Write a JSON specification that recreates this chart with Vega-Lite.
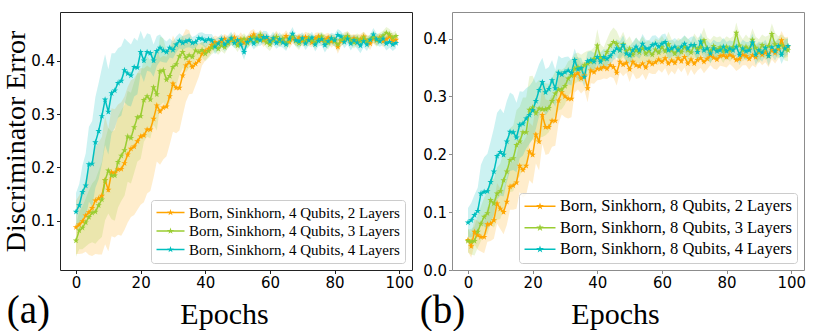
{
"$schema": "https://vega.github.io/schema/vega-lite/v6.json",
"padding": {"left": 2, "top": 11, "right": 5, "bottom": 0},
"config": {
 "view": {"strokeWidth": 1},
 "axis": {"labelFont": "DejaVu Sans", "labelFontSize": 15, "labelColor": "black", "titleFont": "Liberation Serif", "titleFontWeight": "normal", "titleColor": "black", "grid": false, "domain": false, "tickSize": 3.5},
 "legend": {"labelFont": "Liberation Serif", "labelLimit": 0}
},
"spacing": 40,
"bounds": "flush",
"resolve": {"scale": {"color": "independent"}},
"datasets": {
"a": [
{"L":2,"e":0,"y":0.088,"d":0.05},{"L":2,"e":1,"y":0.093,"d":0.055},{"L":2,"e":2,"y":0.099,"d":0.06},{"L":2,"e":3,"y":0.11,"d":0.068},{"L":2,"e":4,"y":0.116,"d":0.08},{"L":2,"e":5,"y":0.124,"d":0.09},{"L":2,"e":6,"y":0.138,"d":0.1},{"L":2,"e":7,"y":0.142,"d":0.105},{"L":2,"e":8,"y":0.147,"d":0.11},{"L":2,"e":9,"y":0.176,"d":0.12},
{"L":2,"e":10,"y":0.158,"d":0.115},{"L":2,"e":11,"y":0.191,"d":0.12},{"L":2,"e":12,"y":0.189,"d":0.12},{"L":2,"e":13,"y":0.196,"d":0.122},{"L":2,"e":14,"y":0.197,"d":0.125},{"L":2,"e":15,"y":0.208,"d":0.125},{"L":2,"e":16,"y":0.224,"d":0.127},{"L":2,"e":17,"y":0.235,"d":0.128},{"L":2,"e":18,"y":0.239,"d":0.128},{"L":2,"e":19,"y":0.249,"d":0.128},
{"L":2,"e":20,"y":0.258,"d":0.128},{"L":2,"e":21,"y":0.26,"d":0.125},{"L":2,"e":22,"y":0.271,"d":0.12},{"L":2,"e":23,"y":0.271,"d":0.115},{"L":2,"e":24,"y":0.291,"d":0.11},{"L":2,"e":25,"y":0.316,"d":0.105},{"L":2,"e":26,"y":0.305,"d":0.1},{"L":2,"e":27,"y":0.312,"d":0.097},{"L":2,"e":28,"y":0.314,"d":0.093},{"L":2,"e":29,"y":0.333,"d":0.09},
{"L":2,"e":30,"y":0.357,"d":0.09},{"L":2,"e":31,"y":0.349,"d":0.085},{"L":2,"e":32,"y":0.349,"d":0.08},{"L":2,"e":33,"y":0.372,"d":0.075},{"L":2,"e":34,"y":0.391,"d":0.068},{"L":2,"e":35,"y":0.397,"d":0.06},{"L":2,"e":36,"y":0.388,"d":0.05},{"L":2,"e":37,"y":0.394,"d":0.04},{"L":2,"e":38,"y":0.4,"d":0.03},{"L":2,"e":39,"y":0.413,"d":0.022},
{"L":2,"e":40,"y":0.418,"d":0.018},{"L":2,"e":41,"y":0.422,"d":0.015},{"L":2,"e":42,"y":0.429,"d":0.013},{"L":2,"e":43,"y":0.435,"d":0.012},{"L":2,"e":44,"y":0.432,"d":0.012},{"L":2,"e":45,"y":0.436,"d":0.01},{"L":2,"e":46,"y":0.441,"d":0.009},{"L":2,"e":47,"y":0.434,"d":0.012},{"L":2,"e":48,"y":0.438,"d":0.008},{"L":2,"e":49,"y":0.443,"d":0.011},
{"L":2,"e":50,"y":0.436,"d":0.009},{"L":2,"e":51,"y":0.44,"d":0.013},{"L":2,"e":52,"y":0.433,"d":0.01},{"L":2,"e":53,"y":0.439,"d":0.008},{"L":2,"e":54,"y":0.444,"d":0.012},{"L":2,"e":55,"y":0.449,"d":0.01},{"L":2,"e":56,"y":0.441,"d":0.009},{"L":2,"e":57,"y":0.446,"d":0.011},{"L":2,"e":58,"y":0.438,"d":0.013},{"L":2,"e":59,"y":0.442,"d":0.009},
{"L":2,"e":60,"y":0.436,"d":0.01},{"L":2,"e":61,"y":0.441,"d":0.008},{"L":2,"e":62,"y":0.444,"d":0.012},{"L":2,"e":63,"y":0.437,"d":0.01},{"L":2,"e":64,"y":0.44,"d":0.009},{"L":2,"e":65,"y":0.446,"d":0.011},{"L":2,"e":66,"y":0.435,"d":0.013},{"L":2,"e":67,"y":0.441,"d":0.009},{"L":2,"e":68,"y":0.438,"d":0.01},{"L":2,"e":69,"y":0.443,"d":0.008},
{"L":2,"e":70,"y":0.437,"d":0.011},{"L":2,"e":71,"y":0.444,"d":0.01},{"L":2,"e":72,"y":0.439,"d":0.012},{"L":2,"e":73,"y":0.434,"d":0.009},{"L":2,"e":74,"y":0.442,"d":0.01},{"L":2,"e":75,"y":0.445,"d":0.008},{"L":2,"e":76,"y":0.438,"d":0.011},{"L":2,"e":77,"y":0.44,"d":0.01},{"L":2,"e":78,"y":0.443,"d":0.009},{"L":2,"e":79,"y":0.436,"d":0.012},
{"L":2,"e":80,"y":0.439,"d":0.01},{"L":2,"e":81,"y":0.426,"d":0.013},{"L":2,"e":82,"y":0.437,"d":0.01},{"L":2,"e":83,"y":0.441,"d":0.009},{"L":2,"e":84,"y":0.444,"d":0.011},{"L":2,"e":85,"y":0.438,"d":0.01},{"L":2,"e":86,"y":0.442,"d":0.008},{"L":2,"e":87,"y":0.436,"d":0.012},{"L":2,"e":88,"y":0.44,"d":0.01},{"L":2,"e":89,"y":0.445,"d":0.009},
{"L":2,"e":90,"y":0.437,"d":0.011},{"L":2,"e":91,"y":0.432,"d":0.012},{"L":2,"e":92,"y":0.441,"d":0.009},{"L":2,"e":93,"y":0.438,"d":0.01},{"L":2,"e":94,"y":0.443,"d":0.008},{"L":2,"e":95,"y":0.436,"d":0.011},{"L":2,"e":96,"y":0.44,"d":0.01},{"L":2,"e":97,"y":0.445,"d":0.009},{"L":2,"e":98,"y":0.437,"d":0.012},{"L":2,"e":99,"y":0.439,"d":0.01},
{"L":3,"e":0,"y":0.063,"d":0.03},{"L":3,"e":1,"y":0.082,"d":0.035},{"L":3,"e":2,"y":0.087,"d":0.04},{"L":3,"e":3,"y":0.097,"d":0.045},{"L":3,"e":4,"y":0.107,"d":0.05},{"L":3,"e":5,"y":0.115,"d":0.055},{"L":3,"e":6,"y":0.117,"d":0.06},{"L":3,"e":7,"y":0.129,"d":0.065},{"L":3,"e":8,"y":0.14,"d":0.07},{"L":3,"e":9,"y":0.176,"d":0.075},
{"L":3,"e":10,"y":0.194,"d":0.08},{"L":3,"e":11,"y":0.185,"d":0.082},{"L":3,"e":12,"y":0.185,"d":0.085},{"L":3,"e":13,"y":0.21,"d":0.085},{"L":3,"e":14,"y":0.222,"d":0.085},{"L":3,"e":15,"y":0.232,"d":0.085},{"L":3,"e":16,"y":0.258,"d":0.085},{"L":3,"e":17,"y":0.255,"d":0.085},{"L":3,"e":18,"y":0.275,"d":0.085},{"L":3,"e":19,"y":0.294,"d":0.083},
{"L":3,"e":20,"y":0.296,"d":0.08},{"L":3,"e":21,"y":0.326,"d":0.078},{"L":3,"e":22,"y":0.333,"d":0.075},{"L":3,"e":23,"y":0.327,"d":0.073},{"L":3,"e":24,"y":0.35,"d":0.07},{"L":3,"e":25,"y":0.337,"d":0.068},{"L":3,"e":26,"y":0.38,"d":0.065},{"L":3,"e":27,"y":0.382,"d":0.06},{"L":3,"e":28,"y":0.364,"d":0.055},{"L":3,"e":29,"y":0.371,"d":0.05},
{"L":3,"e":30,"y":0.388,"d":0.045},{"L":3,"e":31,"y":0.393,"d":0.04},{"L":3,"e":32,"y":0.408,"d":0.035},{"L":3,"e":33,"y":0.416,"d":0.03},{"L":3,"e":34,"y":0.405,"d":0.027},{"L":3,"e":35,"y":0.41,"d":0.024},{"L":3,"e":36,"y":0.407,"d":0.021},{"L":3,"e":37,"y":0.419,"d":0.018},{"L":3,"e":38,"y":0.416,"d":0.016},{"L":3,"e":39,"y":0.42,"d":0.015},
{"L":3,"e":40,"y":0.413,"d":0.014},{"L":3,"e":41,"y":0.418,"d":0.013},{"L":3,"e":42,"y":0.424,"d":0.012},{"L":3,"e":43,"y":0.428,"d":0.012},{"L":3,"e":44,"y":0.422,"d":0.011},{"L":3,"e":45,"y":0.428,"d":0.01},{"L":3,"e":46,"y":0.425,"d":0.012},{"L":3,"e":47,"y":0.432,"d":0.009},{"L":3,"e":48,"y":0.44,"d":0.011},{"L":3,"e":49,"y":0.435,"d":0.01},
{"L":3,"e":50,"y":0.428,"d":0.012},{"L":3,"e":51,"y":0.437,"d":0.009},{"L":3,"e":52,"y":0.441,"d":0.01},{"L":3,"e":53,"y":0.433,"d":0.011},{"L":3,"e":54,"y":0.438,"d":0.009},{"L":3,"e":55,"y":0.443,"d":0.01},{"L":3,"e":56,"y":0.436,"d":0.012},{"L":3,"e":57,"y":0.448,"d":0.01},{"L":3,"e":58,"y":0.44,"d":0.009},{"L":3,"e":59,"y":0.434,"d":0.011},
{"L":3,"e":60,"y":0.43,"d":0.012},{"L":3,"e":61,"y":0.438,"d":0.01},{"L":3,"e":62,"y":0.444,"d":0.009},{"L":3,"e":63,"y":0.436,"d":0.011},{"L":3,"e":64,"y":0.441,"d":0.01},{"L":3,"e":65,"y":0.433,"d":0.012},{"L":3,"e":66,"y":0.439,"d":0.009},{"L":3,"e":67,"y":0.445,"d":0.01},{"L":3,"e":68,"y":0.437,"d":0.011},{"L":3,"e":69,"y":0.432,"d":0.012},
{"L":3,"e":70,"y":0.44,"d":0.009},{"L":3,"e":71,"y":0.436,"d":0.01},{"L":3,"e":72,"y":0.442,"d":0.011},{"L":3,"e":73,"y":0.438,"d":0.009},{"L":3,"e":74,"y":0.434,"d":0.012},{"L":3,"e":75,"y":0.441,"d":0.01},{"L":3,"e":76,"y":0.445,"d":0.009},{"L":3,"e":77,"y":0.437,"d":0.011},{"L":3,"e":78,"y":0.433,"d":0.012},{"L":3,"e":79,"y":0.44,"d":0.01},
{"L":3,"e":80,"y":0.436,"d":0.009},{"L":3,"e":81,"y":0.43,"d":0.012},{"L":3,"e":82,"y":0.438,"d":0.01},{"L":3,"e":83,"y":0.442,"d":0.011},{"L":3,"e":84,"y":0.446,"d":0.009},{"L":3,"e":85,"y":0.439,"d":0.01},{"L":3,"e":86,"y":0.434,"d":0.012},{"L":3,"e":87,"y":0.441,"d":0.01},{"L":3,"e":88,"y":0.437,"d":0.009},{"L":3,"e":89,"y":0.443,"d":0.011},
{"L":3,"e":90,"y":0.436,"d":0.01},{"L":3,"e":91,"y":0.44,"d":0.009},{"L":3,"e":92,"y":0.444,"d":0.011},{"L":3,"e":93,"y":0.438,"d":0.012},{"L":3,"e":94,"y":0.442,"d":0.01},{"L":3,"e":95,"y":0.447,"d":0.009},{"L":3,"e":96,"y":0.452,"d":0.011},{"L":3,"e":97,"y":0.449,"d":0.01},{"L":3,"e":98,"y":0.443,"d":0.009},{"L":3,"e":99,"y":0.446,"d":0.01},
{"L":4,"e":0,"y":0.117,"d":0.035},{"L":4,"e":1,"y":0.129,"d":0.04},{"L":4,"e":2,"y":0.154,"d":0.05},{"L":4,"e":3,"y":0.166,"d":0.06},{"L":4,"e":4,"y":0.206,"d":0.07},{"L":4,"e":5,"y":0.207,"d":0.08},{"L":4,"e":6,"y":0.247,"d":0.085},{"L":4,"e":7,"y":0.268,"d":0.09},{"L":4,"e":8,"y":0.296,"d":0.09},{"L":4,"e":9,"y":0.327,"d":0.085},
{"L":4,"e":10,"y":0.304,"d":0.08},{"L":4,"e":11,"y":0.339,"d":0.075},{"L":4,"e":12,"y":0.344,"d":0.07},{"L":4,"e":13,"y":0.358,"d":0.065},{"L":4,"e":14,"y":0.362,"d":0.065},{"L":4,"e":15,"y":0.382,"d":0.06},{"L":4,"e":16,"y":0.376,"d":0.06},{"L":4,"e":17,"y":0.372,"d":0.058},{"L":4,"e":18,"y":0.388,"d":0.055},{"L":4,"e":19,"y":0.387,"d":0.05},
{"L":4,"e":20,"y":0.416,"d":0.04},{"L":4,"e":21,"y":0.4,"d":0.04},{"L":4,"e":22,"y":0.416,"d":0.035},{"L":4,"e":23,"y":0.414,"d":0.035},{"L":4,"e":24,"y":0.4,"d":0.03},{"L":4,"e":25,"y":0.418,"d":0.028},{"L":4,"e":26,"y":0.424,"d":0.025},{"L":4,"e":27,"y":0.419,"d":0.022},{"L":4,"e":28,"y":0.416,"d":0.02},{"L":4,"e":29,"y":0.424,"d":0.018},
{"L":4,"e":30,"y":0.42,"d":0.016},{"L":4,"e":31,"y":0.43,"d":0.015},{"L":4,"e":32,"y":0.437,"d":0.014},{"L":4,"e":33,"y":0.433,"d":0.013},{"L":4,"e":34,"y":0.436,"d":0.012},{"L":4,"e":35,"y":0.438,"d":0.013},{"L":4,"e":36,"y":0.433,"d":0.011},{"L":4,"e":37,"y":0.435,"d":0.012},{"L":4,"e":38,"y":0.442,"d":0.01},{"L":4,"e":39,"y":0.441,"d":0.012},
{"L":4,"e":40,"y":0.437,"d":0.013},{"L":4,"e":41,"y":0.44,"d":0.01},{"L":4,"e":42,"y":0.438,"d":0.012},{"L":4,"e":43,"y":0.426,"d":0.014},{"L":4,"e":44,"y":0.432,"d":0.012},{"L":4,"e":45,"y":0.44,"d":0.01},{"L":4,"e":46,"y":0.43,"d":0.013},{"L":4,"e":47,"y":0.436,"d":0.011},{"L":4,"e":48,"y":0.442,"d":0.012},{"L":4,"e":49,"y":0.433,"d":0.01},
{"L":4,"e":50,"y":0.438,"d":0.011},{"L":4,"e":51,"y":0.43,"d":0.013},{"L":4,"e":52,"y":0.416,"d":0.015},{"L":4,"e":53,"y":0.435,"d":0.012},{"L":4,"e":54,"y":0.44,"d":0.01},{"L":4,"e":55,"y":0.432,"d":0.011},{"L":4,"e":56,"y":0.441,"d":0.013},{"L":4,"e":57,"y":0.438,"d":0.01},{"L":4,"e":58,"y":0.444,"d":0.012},{"L":4,"e":59,"y":0.444,"d":0.011},
{"L":4,"e":60,"y":0.436,"d":0.01},{"L":4,"e":61,"y":0.442,"d":0.012},{"L":4,"e":62,"y":0.433,"d":0.011},{"L":4,"e":63,"y":0.44,"d":0.013},{"L":4,"e":64,"y":0.434,"d":0.01},{"L":4,"e":65,"y":0.43,"d":0.012},{"L":4,"e":66,"y":0.441,"d":0.011},{"L":4,"e":67,"y":0.45,"d":0.013},{"L":4,"e":68,"y":0.438,"d":0.01},{"L":4,"e":69,"y":0.436,"d":0.012},
{"L":4,"e":70,"y":0.442,"d":0.011},{"L":4,"e":71,"y":0.432,"d":0.012},{"L":4,"e":72,"y":0.438,"d":0.01},{"L":4,"e":73,"y":0.443,"d":0.011},{"L":4,"e":74,"y":0.43,"d":0.013},{"L":4,"e":75,"y":0.437,"d":0.01},{"L":4,"e":76,"y":0.44,"d":0.012},{"L":4,"e":77,"y":0.429,"d":0.014},{"L":4,"e":78,"y":0.436,"d":0.011},{"L":4,"e":79,"y":0.442,"d":0.01},
{"L":4,"e":80,"y":0.438,"d":0.012},{"L":4,"e":81,"y":0.448,"d":0.011},{"L":4,"e":82,"y":0.445,"d":0.01},{"L":4,"e":83,"y":0.435,"d":0.012},{"L":4,"e":84,"y":0.441,"d":0.011},{"L":4,"e":85,"y":0.432,"d":0.013},{"L":4,"e":86,"y":0.438,"d":0.01},{"L":4,"e":87,"y":0.434,"d":0.012},{"L":4,"e":88,"y":0.428,"d":0.014},{"L":4,"e":89,"y":0.436,"d":0.011},
{"L":4,"e":90,"y":0.43,"d":0.012},{"L":4,"e":91,"y":0.439,"d":0.01},{"L":4,"e":92,"y":0.449,"d":0.012},{"L":4,"e":93,"y":0.44,"d":0.011},{"L":4,"e":94,"y":0.436,"d":0.01},{"L":4,"e":95,"y":0.441,"d":0.012},{"L":4,"e":96,"y":0.432,"d":0.013},{"L":4,"e":97,"y":0.435,"d":0.011},{"L":4,"e":98,"y":0.43,"d":0.012},{"L":4,"e":99,"y":0.433,"d":0.01}
],
"b": [
{"L":2,"e":0,"y":0.052,"d":0.02},{"L":2,"e":1,"y":0.041,"d":0.02},{"L":2,"e":2,"y":0.066,"d":0.022},{"L":2,"e":3,"y":0.06,"d":0.025},{"L":2,"e":4,"y":0.057,"d":0.025},{"L":2,"e":5,"y":0.057,"d":0.028},{"L":2,"e":6,"y":0.079,"d":0.03},{"L":2,"e":7,"y":0.08,"d":0.03},{"L":2,"e":8,"y":0.086,"d":0.032},{"L":2,"e":9,"y":0.115,"d":0.035},
{"L":2,"e":10,"y":0.106,"d":0.035},{"L":2,"e":11,"y":0.1,"d":0.038},{"L":2,"e":12,"y":0.118,"d":0.04},{"L":2,"e":13,"y":0.144,"d":0.04},{"L":2,"e":14,"y":0.146,"d":0.042},{"L":2,"e":15,"y":0.151,"d":0.045},{"L":2,"e":16,"y":0.18,"d":0.045},{"L":2,"e":17,"y":0.173,"d":0.048},{"L":2,"e":18,"y":0.18,"d":0.05},{"L":2,"e":19,"y":0.205,"d":0.05},
{"L":2,"e":20,"y":0.199,"d":0.05},{"L":2,"e":21,"y":0.234,"d":0.05},{"L":2,"e":22,"y":0.222,"d":0.05},{"L":2,"e":23,"y":0.268,"d":0.05},{"L":2,"e":24,"y":0.247,"d":0.048},{"L":2,"e":25,"y":0.247,"d":0.046},{"L":2,"e":26,"y":0.258,"d":0.045},{"L":2,"e":27,"y":0.258,"d":0.043},{"L":2,"e":28,"y":0.293,"d":0.04},{"L":2,"e":29,"y":0.307,"d":0.038},
{"L":2,"e":30,"y":0.3,"d":0.036},{"L":2,"e":31,"y":0.296,"d":0.034},{"L":2,"e":32,"y":0.296,"d":0.032},{"L":2,"e":33,"y":0.337,"d":0.03},{"L":2,"e":34,"y":0.34,"d":0.028},{"L":2,"e":35,"y":0.331,"d":0.026},{"L":2,"e":36,"y":0.336,"d":0.025},{"L":2,"e":37,"y":0.314,"d":0.024},{"L":2,"e":38,"y":0.345,"d":0.022},{"L":2,"e":39,"y":0.342,"d":0.02},
{"L":2,"e":40,"y":0.348,"d":0.02},{"L":2,"e":41,"y":0.348,"d":0.019},{"L":2,"e":42,"y":0.351,"d":0.02},{"L":2,"e":43,"y":0.348,"d":0.018},{"L":2,"e":44,"y":0.354,"d":0.02},{"L":2,"e":45,"y":0.351,"d":0.019},{"L":2,"e":46,"y":0.341,"d":0.022},{"L":2,"e":47,"y":0.36,"d":0.018},{"L":2,"e":48,"y":0.355,"d":0.02},{"L":2,"e":49,"y":0.358,"d":0.017},
{"L":2,"e":50,"y":0.347,"d":0.022},{"L":2,"e":51,"y":0.36,"d":0.019},{"L":2,"e":52,"y":0.354,"d":0.024},{"L":2,"e":53,"y":0.352,"d":0.02},{"L":2,"e":54,"y":0.357,"d":0.018},{"L":2,"e":55,"y":0.35,"d":0.022},{"L":2,"e":56,"y":0.36,"d":0.019},{"L":2,"e":57,"y":0.356,"d":0.017},{"L":2,"e":58,"y":0.359,"d":0.02},{"L":2,"e":59,"y":0.364,"d":0.018},
{"L":2,"e":60,"y":0.36,"d":0.019},{"L":2,"e":61,"y":0.366,"d":0.017},{"L":2,"e":62,"y":0.357,"d":0.021},{"L":2,"e":63,"y":0.362,"d":0.018},{"L":2,"e":64,"y":0.358,"d":0.02},{"L":2,"e":65,"y":0.366,"d":0.017},{"L":2,"e":66,"y":0.361,"d":0.019},{"L":2,"e":67,"y":0.368,"d":0.018},{"L":2,"e":68,"y":0.357,"d":0.022},{"L":2,"e":69,"y":0.364,"d":0.017},
{"L":2,"e":70,"y":0.357,"d":0.02},{"L":2,"e":71,"y":0.363,"d":0.018},{"L":2,"e":72,"y":0.366,"d":0.017},{"L":2,"e":73,"y":0.36,"d":0.02},{"L":2,"e":74,"y":0.365,"d":0.018},{"L":2,"e":75,"y":0.371,"d":0.017},{"L":2,"e":76,"y":0.367,"d":0.019},{"L":2,"e":77,"y":0.364,"d":0.018},{"L":2,"e":78,"y":0.37,"d":0.017},{"L":2,"e":79,"y":0.371,"d":0.019},
{"L":2,"e":80,"y":0.368,"d":0.018},{"L":2,"e":81,"y":0.372,"d":0.016},{"L":2,"e":82,"y":0.369,"d":0.018},{"L":2,"e":83,"y":0.363,"d":0.019},{"L":2,"e":84,"y":0.365,"d":0.017},{"L":2,"e":85,"y":0.372,"d":0.018},{"L":2,"e":86,"y":0.37,"d":0.016},{"L":2,"e":87,"y":0.365,"d":0.019},{"L":2,"e":88,"y":0.371,"d":0.017},{"L":2,"e":89,"y":0.368,"d":0.018},
{"L":2,"e":90,"y":0.377,"d":0.016},{"L":2,"e":91,"y":0.372,"d":0.018},{"L":2,"e":92,"y":0.376,"d":0.017},{"L":2,"e":93,"y":0.37,"d":0.019},{"L":2,"e":94,"y":0.38,"d":0.016},{"L":2,"e":95,"y":0.375,"d":0.018},{"L":2,"e":96,"y":0.382,"d":0.017},{"L":2,"e":97,"y":0.397,"d":0.016},{"L":2,"e":98,"y":0.384,"d":0.018},{"L":2,"e":99,"y":0.386,"d":0.017},
{"L":3,"e":0,"y":0.05,"d":0.02},{"L":3,"e":1,"y":0.049,"d":0.022},{"L":3,"e":2,"y":0.05,"d":0.025},{"L":3,"e":3,"y":0.066,"d":0.028},{"L":3,"e":4,"y":0.08,"d":0.03},{"L":3,"e":5,"y":0.092,"d":0.033},{"L":3,"e":6,"y":0.098,"d":0.036},{"L":3,"e":7,"y":0.121,"d":0.04},{"L":3,"e":8,"y":0.115,"d":0.042},{"L":3,"e":9,"y":0.132,"d":0.045},
{"L":3,"e":10,"y":0.136,"d":0.048},{"L":3,"e":11,"y":0.155,"d":0.05},{"L":3,"e":12,"y":0.17,"d":0.052},{"L":3,"e":13,"y":0.19,"d":0.055},{"L":3,"e":14,"y":0.193,"d":0.057},{"L":3,"e":15,"y":0.216,"d":0.06},{"L":3,"e":16,"y":0.222,"d":0.06},{"L":3,"e":17,"y":0.238,"d":0.06},{"L":3,"e":18,"y":0.238,"d":0.06},{"L":3,"e":19,"y":0.277,"d":0.058},
{"L":3,"e":20,"y":0.281,"d":0.055},{"L":3,"e":21,"y":0.271,"d":0.052},{"L":3,"e":22,"y":0.279,"d":0.05},{"L":3,"e":23,"y":0.278,"d":0.048},{"L":3,"e":24,"y":0.278,"d":0.045},{"L":3,"e":25,"y":0.28,"d":0.042},{"L":3,"e":26,"y":0.292,"d":0.04},{"L":3,"e":27,"y":0.305,"d":0.038},{"L":3,"e":28,"y":0.312,"d":0.036},{"L":3,"e":29,"y":0.312,"d":0.034},
{"L":3,"e":30,"y":0.318,"d":0.032},{"L":3,"e":31,"y":0.331,"d":0.03},{"L":3,"e":32,"y":0.336,"d":0.028},{"L":3,"e":33,"y":0.348,"d":0.026},{"L":3,"e":34,"y":0.351,"d":0.025},{"L":3,"e":35,"y":0.348,"d":0.024},{"L":3,"e":36,"y":0.354,"d":0.022},{"L":3,"e":37,"y":0.357,"d":0.022},{"L":3,"e":38,"y":0.36,"d":0.02},{"L":3,"e":39,"y":0.365,"d":0.02},
{"L":3,"e":40,"y":0.388,"d":0.028},{"L":3,"e":41,"y":0.368,"d":0.022},{"L":3,"e":42,"y":0.365,"d":0.02},{"L":3,"e":43,"y":0.377,"d":0.022},{"L":3,"e":44,"y":0.388,"d":0.024},{"L":3,"e":45,"y":0.394,"d":0.025},{"L":3,"e":46,"y":0.391,"d":0.022},{"L":3,"e":47,"y":0.38,"d":0.02},{"L":3,"e":48,"y":0.39,"d":0.022},{"L":3,"e":49,"y":0.378,"d":0.019},
{"L":3,"e":50,"y":0.383,"d":0.021},{"L":3,"e":51,"y":0.372,"d":0.02},{"L":3,"e":52,"y":0.38,"d":0.022},{"L":3,"e":53,"y":0.376,"d":0.019},{"L":3,"e":54,"y":0.383,"d":0.021},{"L":3,"e":55,"y":0.374,"d":0.02},{"L":3,"e":56,"y":0.379,"d":0.018},{"L":3,"e":57,"y":0.372,"d":0.02},{"L":3,"e":58,"y":0.381,"d":0.019},{"L":3,"e":59,"y":0.376,"d":0.021},
{"L":3,"e":60,"y":0.385,"d":0.02},{"L":3,"e":61,"y":0.378,"d":0.018},{"L":3,"e":62,"y":0.39,"d":0.022},{"L":3,"e":63,"y":0.38,"d":0.019},{"L":3,"e":64,"y":0.374,"d":0.02},{"L":3,"e":65,"y":0.383,"d":0.018},{"L":3,"e":66,"y":0.377,"d":0.021},{"L":3,"e":67,"y":0.386,"d":0.019},{"L":3,"e":68,"y":0.38,"d":0.02},{"L":3,"e":69,"y":0.376,"d":0.018},
{"L":3,"e":70,"y":0.388,"d":0.021},{"L":3,"e":71,"y":0.382,"d":0.019},{"L":3,"e":72,"y":0.385,"d":0.02},{"L":3,"e":73,"y":0.397,"d":0.022},{"L":3,"e":74,"y":0.383,"d":0.019},{"L":3,"e":75,"y":0.378,"d":0.02},{"L":3,"e":76,"y":0.387,"d":0.018},{"L":3,"e":77,"y":0.381,"d":0.021},{"L":3,"e":78,"y":0.385,"d":0.019},{"L":3,"e":79,"y":0.378,"d":0.02},
{"L":3,"e":80,"y":0.386,"d":0.018},{"L":3,"e":81,"y":0.38,"d":0.02},{"L":3,"e":82,"y":0.385,"d":0.019},{"L":3,"e":83,"y":0.41,"d":0.018},{"L":3,"e":84,"y":0.388,"d":0.02},{"L":3,"e":85,"y":0.38,"d":0.019},{"L":3,"e":86,"y":0.386,"d":0.021},{"L":3,"e":87,"y":0.382,"d":0.018},{"L":3,"e":88,"y":0.398,"d":0.02},{"L":3,"e":89,"y":0.384,"d":0.019},
{"L":3,"e":90,"y":0.378,"d":0.021},{"L":3,"e":91,"y":0.389,"d":0.018},{"L":3,"e":92,"y":0.383,"d":0.02},{"L":3,"e":93,"y":0.387,"d":0.019},{"L":3,"e":94,"y":0.408,"d":0.018},{"L":3,"e":95,"y":0.39,"d":0.02},{"L":3,"e":96,"y":0.385,"d":0.019},{"L":3,"e":97,"y":0.389,"d":0.018},{"L":3,"e":98,"y":0.382,"d":0.02},{"L":3,"e":99,"y":0.38,"d":0.019},
{"L":4,"e":0,"y":0.082,"d":0.025},{"L":4,"e":1,"y":0.086,"d":0.03},{"L":4,"e":2,"y":0.095,"d":0.035},{"L":4,"e":3,"y":0.102,"d":0.04},{"L":4,"e":4,"y":0.132,"d":0.05},{"L":4,"e":5,"y":0.135,"d":0.06},{"L":4,"e":6,"y":0.136,"d":0.065},{"L":4,"e":7,"y":0.152,"d":0.07},{"L":4,"e":8,"y":0.17,"d":0.075},{"L":4,"e":9,"y":0.197,"d":0.075},
{"L":4,"e":10,"y":0.204,"d":0.075},{"L":4,"e":11,"y":0.199,"d":0.072},{"L":4,"e":12,"y":0.222,"d":0.07},{"L":4,"e":13,"y":0.239,"d":0.068},{"L":4,"e":14,"y":0.238,"d":0.065},{"L":4,"e":15,"y":0.229,"d":0.06},{"L":4,"e":16,"y":0.251,"d":0.058},{"L":4,"e":17,"y":0.253,"d":0.055},{"L":4,"e":18,"y":0.262,"d":0.052},{"L":4,"e":19,"y":0.268,"d":0.05},
{"L":4,"e":20,"y":0.276,"d":0.05},{"L":4,"e":21,"y":0.292,"d":0.048},{"L":4,"e":22,"y":0.311,"d":0.045},{"L":4,"e":23,"y":0.325,"d":0.042},{"L":4,"e":24,"y":0.307,"d":0.04},{"L":4,"e":25,"y":0.313,"d":0.038},{"L":4,"e":26,"y":0.328,"d":0.035},{"L":4,"e":27,"y":0.314,"d":0.032},{"L":4,"e":28,"y":0.341,"d":0.03},{"L":4,"e":29,"y":0.338,"d":0.028},
{"L":4,"e":30,"y":0.342,"d":0.026},{"L":4,"e":31,"y":0.345,"d":0.024},{"L":4,"e":32,"y":0.341,"d":0.022},{"L":4,"e":33,"y":0.363,"d":0.02},{"L":4,"e":34,"y":0.347,"d":0.02},{"L":4,"e":35,"y":0.349,"d":0.018},{"L":4,"e":36,"y":0.334,"d":0.018},{"L":4,"e":37,"y":0.361,"d":0.016},{"L":4,"e":38,"y":0.363,"d":0.016},{"L":4,"e":39,"y":0.36,"d":0.015},
{"L":4,"e":40,"y":0.368,"d":0.015},{"L":4,"e":41,"y":0.36,"d":0.016},{"L":4,"e":42,"y":0.368,"d":0.014},{"L":4,"e":43,"y":0.365,"d":0.015},{"L":4,"e":44,"y":0.37,"d":0.016},{"L":4,"e":45,"y":0.377,"d":0.014},{"L":4,"e":46,"y":0.383,"d":0.016},{"L":4,"e":47,"y":0.38,"d":0.015},{"L":4,"e":48,"y":0.389,"d":0.017},{"L":4,"e":49,"y":0.374,"d":0.015},
{"L":4,"e":50,"y":0.371,"d":0.016},{"L":4,"e":51,"y":0.38,"d":0.014},{"L":4,"e":52,"y":0.386,"d":0.016},{"L":4,"e":53,"y":0.38,"d":0.015},{"L":4,"e":54,"y":0.391,"d":0.017},{"L":4,"e":55,"y":0.383,"d":0.015},{"L":4,"e":56,"y":0.383,"d":0.014},{"L":4,"e":57,"y":0.389,"d":0.016},{"L":4,"e":58,"y":0.391,"d":0.015},{"L":4,"e":59,"y":0.386,"d":0.014},
{"L":4,"e":60,"y":0.391,"d":0.016},{"L":4,"e":61,"y":0.394,"d":0.015},{"L":4,"e":62,"y":0.38,"d":0.017},{"L":4,"e":63,"y":0.383,"d":0.014},{"L":4,"e":64,"y":0.386,"d":0.015},{"L":4,"e":65,"y":0.38,"d":0.016},{"L":4,"e":66,"y":0.386,"d":0.014},{"L":4,"e":67,"y":0.391,"d":0.015},{"L":4,"e":68,"y":0.383,"d":0.016},{"L":4,"e":69,"y":0.389,"d":0.014},
{"L":4,"e":70,"y":0.389,"d":0.015},{"L":4,"e":71,"y":0.377,"d":0.017},{"L":4,"e":72,"y":0.395,"d":0.015},{"L":4,"e":73,"y":0.38,"d":0.016},{"L":4,"e":74,"y":0.383,"d":0.014},{"L":4,"e":75,"y":0.374,"d":0.017},{"L":4,"e":76,"y":0.383,"d":0.015},{"L":4,"e":77,"y":0.378,"d":0.016},{"L":4,"e":78,"y":0.38,"d":0.014},{"L":4,"e":79,"y":0.386,"d":0.015},
{"L":4,"e":80,"y":0.378,"d":0.016},{"L":4,"e":81,"y":0.383,"d":0.014},{"L":4,"e":82,"y":0.38,"d":0.015},{"L":4,"e":83,"y":0.386,"d":0.016},{"L":4,"e":84,"y":0.372,"d":0.018},{"L":4,"e":85,"y":0.383,"d":0.015},{"L":4,"e":86,"y":0.378,"d":0.016},{"L":4,"e":87,"y":0.38,"d":0.014},{"L":4,"e":88,"y":0.393,"d":0.016},{"L":4,"e":89,"y":0.372,"d":0.018},
{"L":4,"e":90,"y":0.38,"d":0.015},{"L":4,"e":91,"y":0.376,"d":0.016},{"L":4,"e":92,"y":0.384,"d":0.014},{"L":4,"e":93,"y":0.37,"d":0.017},{"L":4,"e":94,"y":0.385,"d":0.015},{"L":4,"e":95,"y":0.378,"d":0.016},{"L":4,"e":96,"y":0.387,"d":0.014},{"L":4,"e":97,"y":0.372,"d":0.016},{"L":4,"e":98,"y":0.383,"d":0.015},{"L":4,"e":99,"y":0.387,"d":0.014}
]
},
"hconcat": [
{
 "width": 352, "height": 258,
 "data": {"name": "a"},
 "view": {"stroke": "#222222"},
 "title": {"text": "(a)", "orient": "bottom", "anchor": "start", "frame": "bounds", "font": "Liberation Serif", "fontSize": 39, "fontWeight": "normal", "color": "black", "offset": -38, "dx": 4},
 "encoding": {
  "x": {"field": "e", "type": "quantitative", "scale": {"domain": [-4.95, 103.95], "nice": false, "zero": false}, "axis": {"values": [0,20,40,60,80,100], "title": "Epochs", "titleFontSize": 30, "titlePadding": 9, "titleX": 164, "labelPadding": 2, "tickColor": "#222222"}},
  "y": {"field": "y", "type": "quantitative", "scale": {"domain": [0.008, 0.491], "nice": false, "zero": false}, "axis": {"values": [0.1,0.2,0.3,0.4], "format": ".1f", "title": "Discriminator Error", "titleFontSize": 28, "titlePadding": 0, "labelPadding": 2, "tickColor": "#222222"}},
  "color": {"field": "L", "type": "nominal", "scale": {"domain": [2,3,4], "range": ["#FFA500","#9ACD32","#00BFBF"]},
   "legend": {"title": null, "orient": "bottom-right", "offset": 7, "padding": 5, "labelFont": "Liberation Serif", "labelFontSize": 15, "labelLimit": 0, "labelColor": "black", "labelExpr": "'Born, Sinkhorn, 4 Qubits, ' + datum.label + ' Layers'", "symbolType": "M-1,-0.107L3,-0.107L3,0.107L-1,0.107Z M1,-0.5L1.112,-0.155L1.476,-0.155L1.182,0.059L1.294,0.405L1,0.191L0.706,0.405L0.818,0.059L0.524,-0.155L0.888,-0.155Z", "symbolSize": 196, "symbolStrokeWidth": 0, "symbolOpacity": 1, "rowPadding": 2.5, "labelOffset": 18, "fillColor": "rgba(255,255,255,0.8)", "strokeColor": "#cccccc", "cornerRadius": 3,
    "encode": {"symbols": {"update": {"fill": {"signal": "datum.value == 2 ? '#FFA500' : datum.value == 3 ? '#9ACD32' : '#00BFBF'"}, "opacity": {"value": 1}}}}}}
 },
 "layer": [
  {"mark": {"type": "errorband", "opacity": 0.2}, "encoding": {"yError": {"field": "d"}}},
  {"mark": {"type": "line", "strokeWidth": 1.5}},
  {"mark": {"type": "point", "shape": "M0,-1L0.2245,-0.309L0.951,-0.309L0.363,0.118L0.588,0.809L0,0.382L-0.588,0.809L-0.363,0.118L-0.951,-0.309L-0.2245,-0.309Z", "size": 45, "filled": true, "opacity": 1}}
 ]
},
{
 "width": 352, "height": 258,
 "data": {"name": "b"},
 "view": {"stroke": "#8c8c8c"},
 "title": {"text": "(b)", "orient": "bottom", "anchor": "start", "frame": "bounds", "font": "Liberation Serif", "fontSize": 39, "fontWeight": "normal", "color": "black", "offset": -38, "dx": -3},
 "encoding": {
  "x": {"field": "e", "type": "quantitative", "scale": {"domain": [-4.95, 103.95], "nice": false, "zero": false}, "axis": {"values": [0,20,40,60,80,100], "title": "Epochs", "titleFontSize": 30, "titlePadding": 9, "titleX": 163, "labelPadding": 2, "tickColor": "#8c8c8c"}},
  "y": {"field": "y", "type": "quantitative", "scale": {"domain": [0, 0.446], "nice": false, "zero": false}, "axis": {"values": [0,0.1,0.2,0.3,0.4], "format": ".1f", "title": null, "labelPadding": 2, "tickColor": "#8c8c8c"}},
  "color": {"field": "L", "type": "nominal", "scale": {"domain": [2,3,4], "range": ["#FFA500","#9ACD32","#00BFBF"]},
   "legend": {"title": null, "orient": "bottom-right", "offset": 7, "padding": 5, "labelFont": "Liberation Serif", "labelFontSize": 16.5, "labelLimit": 0, "labelColor": "black", "labelExpr": "'Born, Sinkhorn, 8 Qubits, ' + datum.label + ' Layers'", "symbolType": "M-1,-0.107L3,-0.107L3,0.107L-1,0.107Z M1,-0.5L1.112,-0.155L1.476,-0.155L1.182,0.059L1.294,0.405L1,0.191L0.706,0.405L0.818,0.059L0.524,-0.155L0.888,-0.155Z", "symbolSize": 240, "symbolStrokeWidth": 0, "symbolOpacity": 1, "rowPadding": 4.5, "labelOffset": 19.5, "fillColor": "rgba(255,255,255,0.8)", "strokeColor": "#cccccc", "cornerRadius": 3,
    "encode": {"symbols": {"update": {"fill": {"signal": "datum.value == 2 ? '#FFA500' : datum.value == 3 ? '#9ACD32' : '#00BFBF'"}, "opacity": {"value": 1}}}}}}
 },
 "layer": [
  {"mark": {"type": "errorband", "opacity": 0.2}, "encoding": {"yError": {"field": "d"}}},
  {"mark": {"type": "line", "strokeWidth": 1.5}},
  {"mark": {"type": "point", "shape": "M0,-1L0.2245,-0.309L0.951,-0.309L0.363,0.118L0.588,0.809L0,0.382L-0.588,0.809L-0.363,0.118L-0.951,-0.309L-0.2245,-0.309Z", "size": 45, "filled": true, "opacity": 1}}
 ]
}
]
}
